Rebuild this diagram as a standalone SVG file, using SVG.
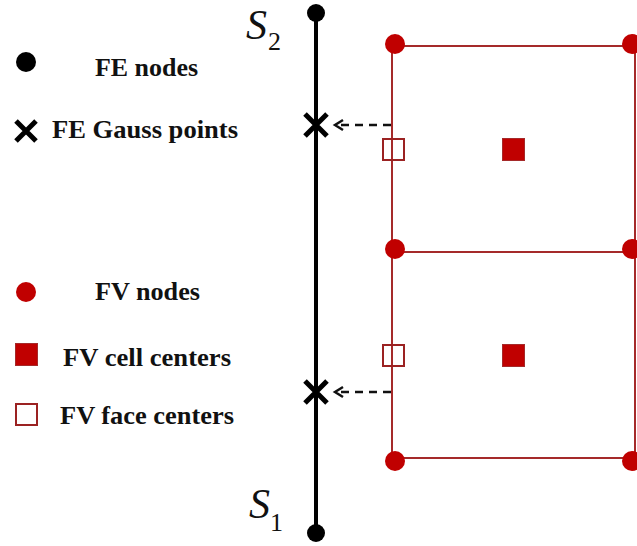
<svg xmlns="http://www.w3.org/2000/svg" width="637" height="546" viewBox="0 0 637 546">
<defs>
<style>
.lbl{font-family:"Liberation Serif","DejaVu Serif",serif;font-weight:bold;font-size:25px;fill:#111}
.sym{font-family:"Liberation Serif","DejaVu Serif",serif;fill:#111}
.grid{stroke:#A52A2A;stroke-width:2;fill:none}
.fvn{fill:#C00000}
.cell{fill:#C00000;stroke:#A52A2A;stroke-width:1}
.face{fill:none;stroke:#9B2222;stroke-width:2}
.gx{stroke:#000;stroke-width:5;stroke-linecap:butt}
.dash{stroke:#111;stroke-width:2.5;stroke-dasharray:8,6;fill:none}
.head{stroke:#111;stroke-width:2.5;fill:none}
</style>
</defs>
<rect width="637" height="546" fill="#fff"/>
<g id="connectors">
<line x1="316" y1="13" x2="316" y2="533" stroke="#000" stroke-width="4"/>
<line class="grid" x1="392" y1="46" x2="392" y2="458"/>
<line class="grid" x1="635" y1="46" x2="635" y2="458"/>
<line class="grid" x1="392" y1="46" x2="637" y2="46"/>
<line class="grid" x1="392" y1="252" x2="637" y2="252"/>
<line class="grid" x1="392" y1="458" x2="637" y2="458"/>
<line class="dash" x1="391" y1="125" x2="340" y2="125"/>
<polyline class="head" points="343,120 335,125 343,130"/>
<line class="dash" x1="391" y1="392" x2="340" y2="392"/>
<polyline class="head" points="343,387 335,392 343,397"/>
</g>
<g id="fe-node-top"><circle cx="316" cy="13" r="9" fill="#000"/></g>
<g id="fe-node-bottom"><circle cx="316" cy="533" r="9" fill="#000"/></g>
<g id="label-s2"><text class="sym" x="246" y="39" font-size="42" font-style="italic">S</text><text class="sym" x="268" y="50" font-size="26">2</text></g>
<g id="label-s1"><text class="sym" x="249" y="518" font-size="42" font-style="italic">S</text><text class="sym" x="270" y="531" font-size="26">1</text></g>
<g id="gauss-1"><path class="gx" d="M305,114 L327,136 M327,114 L305,136"/></g>
<g id="gauss-2"><path class="gx" d="M305,381 L327,403 M327,381 L305,403"/></g>
<g id="fv-nodes">
<circle class="fvn" cx="395" cy="44" r="10"/>
<circle class="fvn" cx="632" cy="44" r="10"/>
<circle class="fvn" cx="395" cy="249" r="10"/>
<circle class="fvn" cx="632" cy="249" r="10"/>
<circle class="fvn" cx="395" cy="461" r="10"/>
<circle class="fvn" cx="632" cy="461" r="10"/>
</g>
<g id="cell-1"><rect class="cell" x="502.5" y="138.5" width="22" height="22"/></g>
<g id="cell-2"><rect class="cell" x="502.5" y="344.5" width="22" height="22"/></g>
<g id="face-1"><rect class="face" x="383" y="139" width="21" height="21"/></g>
<g id="face-2"><rect class="face" x="383" y="345" width="21" height="21"/></g>
<g id="legend">
<circle cx="26" cy="62" r="10" fill="#000"/>
<text class="lbl" x="95" y="76" textLength="103" lengthAdjust="spacingAndGlyphs">FE nodes</text>
<path class="gx" d="M16,121 L36,141 M36,121 L16,141"/>
<text class="lbl" x="52" y="138" textLength="186" lengthAdjust="spacingAndGlyphs">FE Gauss points</text>
<circle class="fvn" cx="26" cy="292" r="10"/>
<text class="lbl" x="95" y="300" textLength="105" lengthAdjust="spacingAndGlyphs">FV nodes</text>
<rect class="cell" x="15.5" y="343.5" width="22" height="22"/>
<text class="lbl" x="63" y="366" textLength="168" lengthAdjust="spacingAndGlyphs">FV cell centers</text>
<rect class="face" x="16" y="404" width="21" height="21"/>
<text class="lbl" x="60" y="424" textLength="174" lengthAdjust="spacingAndGlyphs">FV face centers</text>
</g>
</svg>
